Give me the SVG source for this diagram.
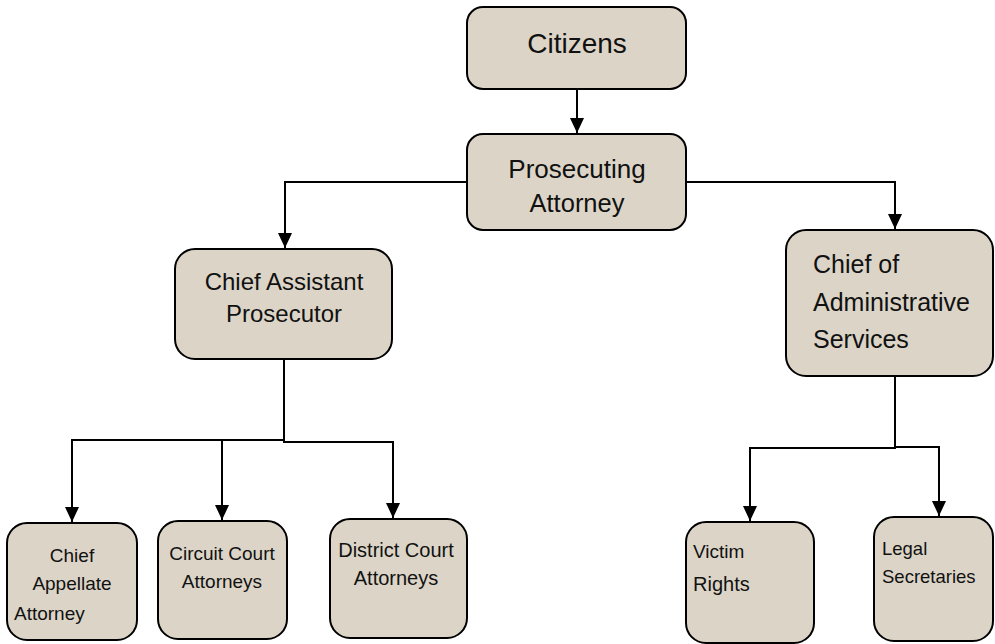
<svg xmlns="http://www.w3.org/2000/svg" width="995" height="644" viewBox="0 0 995 644">
<defs>
<style>
.box{fill:#dcd5c7;stroke:#000;stroke-width:2}
.t{font-family:"Liberation Sans",Arial,sans-serif;fill:#111}
.c{text-anchor:middle}
.ln{fill:none;stroke:#000;stroke-width:2}
</style>
<marker id="arr" viewBox="0 0 15 14" refX="15" refY="7" markerWidth="15" markerHeight="14" markerUnits="userSpaceOnUse" orient="auto">
<path d="M0,0 L15,7 L0,14 Z" fill="#000"/>
</marker>
</defs>
<rect width="995" height="644" fill="#fff"/>
<g id="connectors">
<path class="ln" d="M577,89 V133" marker-end="url(#arr)"/>
<path class="ln" d="M467,182 H285 V248" marker-end="url(#arr)"/>
<path class="ln" d="M686,182 H895 V229" marker-end="url(#arr)"/>
<path class="ln" d="M284,359 V442 H393 V518" marker-end="url(#arr)"/>
<path class="ln" d="M284,440 H72 V522" marker-end="url(#arr)"/>
<path class="ln" d="M222,440 V520" marker-end="url(#arr)"/>
<path class="ln" d="M895,376 V448 H750 V521" marker-end="url(#arr)"/>
<path class="ln" d="M895,447 H939 V516" marker-end="url(#arr)"/>
</g>
<g id="citizens">
<rect class="box" x="467" y="7" width="219" height="82" rx="16"/>
<text class="t c" x="577" y="53" font-size="28">Citizens</text>
</g>
<g id="prosecuting-attorney">
<rect class="box" x="467" y="134" width="219" height="96" rx="16"/>
<text class="t c" x="577" y="178" font-size="26">Prosecuting</text>
<text class="t c" x="577" y="212" font-size="25.5">Attorney</text>
</g>
<g id="chief-assistant-prosecutor">
<rect class="box" x="175" y="249" width="217" height="110" rx="20"/>
<text class="t c" x="284" y="290" font-size="24">Chief Assistant</text>
<text class="t c" x="284" y="322" font-size="24">Prosecutor</text>
</g>
<g id="chief-admin-services">
<rect class="box" x="786" y="230" width="207" height="146" rx="20"/>
<text class="t" x="813" y="273" font-size="25">Chief of</text>
<text class="t" x="813" y="311" font-size="25">Administrative</text>
<text class="t" x="813" y="348" font-size="25">Services</text>
</g>
<g id="chief-appellate-attorney">
<rect class="box" x="7" y="523" width="130" height="117" rx="20"/>
<text class="t c" x="72" y="562" font-size="19">Chief</text>
<text class="t c" x="72" y="590" font-size="19">Appellate</text>
<text class="t" x="14" y="620" font-size="19">Attorney</text>
</g>
<g id="circuit-court-attorneys">
<rect class="box" x="158" y="521" width="129" height="118" rx="20"/>
<text class="t c" x="222" y="560" font-size="19">Circuit Court</text>
<text class="t c" x="222" y="588" font-size="19">Attorneys</text>
</g>
<g id="district-court-attorneys">
<rect class="box" x="330" y="519" width="137" height="119" rx="20"/>
<text class="t c" x="396" y="557" font-size="20">District Court</text>
<text class="t c" x="396" y="585" font-size="20">Attorneys</text>
</g>
<g id="victim-rights">
<rect class="box" x="686" y="522" width="128" height="121" rx="20"/>
<text class="t" x="693" y="558" font-size="19">Victim</text>
<text class="t" x="693" y="591" font-size="20">Rights</text>
</g>
<g id="legal-secretaries">
<rect class="box" x="874" y="517" width="119" height="124" rx="20"/>
<text class="t" x="882" y="555" font-size="18.5">Legal</text>
<text class="t" x="882" y="583" font-size="18.5">Secretaries</text>
</g>
</svg>
